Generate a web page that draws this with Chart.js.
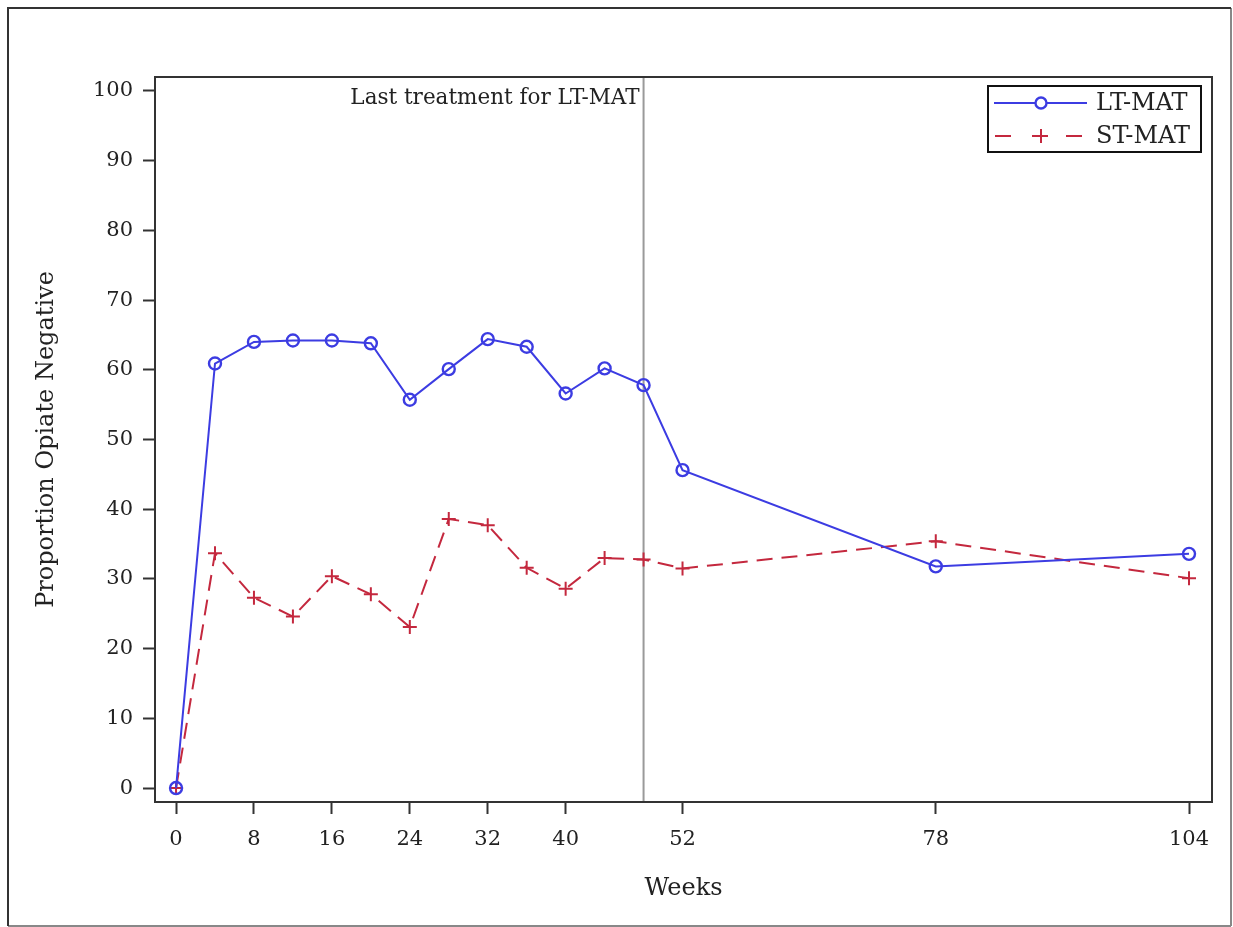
<!DOCTYPE html>
<html>
<head>
<meta charset="utf-8">
<script src="https://cdn.jsdelivr.net/npm/chart.js@4.4.1/dist/chart.umd.min.js"></script>
<style>
  html, body { margin: 0; padding: 0; background: #fff; }
  #wrap { width: 1233px; height: 927px; position: relative; }
</style>
</head>
<body>
<div id="wrap"><canvas id="chart" width="1233" height="927"></canvas></div>
<script>
// weeks and proportions
const weeks = [0, 4, 8, 12, 16, 20, 24, 28, 32, 36, 40, 44, 48, 52, 78, 104];
const ltMat = [0, 60.9, 64.0, 64.2, 64.2, 63.8, 55.7, 60.1, 64.4, 63.3, 56.6, 60.2, 57.8, 45.6, 31.8, 33.6];
const stMat = [0, 33.7, 27.3, 24.6, 30.4, 27.8, 23.1, 38.6, 37.7, 31.6, 28.6, 33.0, 32.8, 31.5, 35.4, 30.1];
const xTickValues = [0, 8, 16, 24, 32, 40, 52, 78, 104];
const yTickValues = [0, 10, 20, 30, 40, 50, 60, 70, 80, 90, 100];
const lastTreatmentWeek = 48;
const refLabel = 'Last treatment for LT-MAT';

const FONT = '"DejaVu Serif", serif';
const BLUE = '#3c3ce2';
const RED = '#c4283e';
const INK = '#222';

const toPoints = (ys) => weeks.map((w, i) => ({ x: w, y: ys[i] }));

// frame around the plot, outer figure border, reference line and inset legend
const decorations = {
    id: 'decorations',
    beforeDraw(chart) {
        const ctx = chart.ctx;
        ctx.save();
        ctx.fillStyle = '#fff';
        ctx.fillRect(0, 0, chart.width, chart.height);
        ctx.lineWidth = 2;
        ctx.strokeStyle = '#888';
        ctx.beginPath();
        ctx.moveTo(1231, 8); ctx.lineTo(1231, 926);
        ctx.moveTo(8, 926); ctx.lineTo(1231, 926);
        ctx.stroke();
        ctx.strokeStyle = '#333';
        ctx.beginPath();
        ctx.moveTo(8, 926); ctx.lineTo(8, 8); ctx.lineTo(1231, 8);
        ctx.stroke();
        ctx.restore();
    },
    beforeDatasetsDraw(chart) {
        const { ctx, chartArea: a, scales } = chart;
        const x = scales.x.getPixelForValue(lastTreatmentWeek);
        ctx.save();
        ctx.strokeStyle = '#9a9a9a';
        ctx.lineWidth = 2;
        ctx.beginPath();
        ctx.moveTo(x, a.top);
        ctx.lineTo(x, a.bottom);
        ctx.stroke();
        ctx.fillStyle = INK;
        ctx.font = '21.5px ' + FONT;
        ctx.textAlign = 'right';
        ctx.textBaseline = 'middle';
        ctx.fillText(refLabel, x - 4, a.top + 21);
        ctx.restore();
    },
    afterDraw(chart) {
        const { ctx, chartArea: a } = chart;
        ctx.save();
        ctx.strokeStyle = '#333';
        ctx.lineWidth = 2;
        ctx.strokeRect(a.left, a.top, a.right - a.left, a.bottom - a.top);

        // legend box
        const bx = 988, by = 86, bw = 213, bh = 66;
        ctx.strokeStyle = '#111';
        ctx.lineWidth = 2;
        ctx.strokeRect(bx, by, bw, bh);
        const rows = [
            { label: 'LT-MAT', color: BLUE, dash: [], style: 'circle', cy: by + 17 },
            { label: 'ST-MAT', color: RED, dash: [16, 9], style: 'cross', cy: by + 50 }
        ];
        rows.forEach(r => {
            ctx.strokeStyle = r.color;
            ctx.lineWidth = 2;
            ctx.setLineDash(r.dash);
            ctx.beginPath();
            if (r.dash.length) {
                ctx.moveTo(bx + 7, r.cy); ctx.lineTo(bx + 28, r.cy);
                ctx.moveTo(bx + 44, r.cy); ctx.lineTo(bx + 62, r.cy);
                ctx.moveTo(bx + 78, r.cy); ctx.lineTo(bx + 98, r.cy);
            } else {
                ctx.moveTo(bx + 6, r.cy); ctx.lineTo(bx + 99, r.cy);
            }
            ctx.stroke();
            ctx.setLineDash([]);
            const mx = bx + 53;
            if (r.style === 'circle') {
                ctx.fillStyle = '#fff';
                ctx.lineWidth = 2.4;
                ctx.beginPath();
                ctx.arc(mx, r.cy, 5.5, 0, Math.PI * 2);
                ctx.fill();
                ctx.stroke();
            } else {
                ctx.lineWidth = 2;
                ctx.beginPath();
                ctx.moveTo(mx - 7, r.cy); ctx.lineTo(mx + 7, r.cy);
                ctx.moveTo(mx, r.cy - 7); ctx.lineTo(mx, r.cy + 7);
                ctx.stroke();
            }
            ctx.fillStyle = INK;
            ctx.font = '24px ' + FONT;
            ctx.textAlign = 'left';
            ctx.textBaseline = 'middle';
            ctx.fillText(r.label, bx + 108, r.cy + 1);
        });
        ctx.restore();
    }
};

new Chart(document.getElementById('chart'), {
    type: 'line',
    data: {
        datasets: [{
            label: 'LT-MAT',
            data: toPoints(ltMat),
            borderColor: BLUE,
            backgroundColor: 'rgba(0,0,0,0)',
            borderWidth: 2,
            pointStyle: 'circle',
            pointRadius: 6,
            pointBorderWidth: 2.4,
            pointBorderColor: BLUE,
            pointBackgroundColor: 'rgba(0,0,0,0)',
            tension: 0
        }, {
            label: 'ST-MAT',
            data: toPoints(stMat),
            borderColor: RED,
            backgroundColor: 'rgba(0,0,0,0)',
            borderWidth: 2,
            borderDash: [16, 9],
            pointStyle: 'cross',
            pointRadius: 7,
            pointBorderWidth: 2,
            pointBorderColor: RED,
            tension: 0
        }]
    },
    options: {
        responsive: false,
        animation: false,
        events: [],
        layout: { padding: { left: 20, right: 21, top: 77, bottom: 20 } },
        plugins: { legend: { display: false }, tooltip: { enabled: false } },
        scales: {
            x: {
                type: 'linear',
                min: -2.16,
                max: 106.36,
                afterBuildTicks: (s) => { s.ticks = xTickValues.map(v => ({ value: v })); },
                afterFit: (s) => { s.height = 105; },
                grid: { drawOnChartArea: false, drawTicks: true, tickLength: 12, tickColor: '#333', tickWidth: 2 },
                border: { display: true, color: '#333', width: 2 },
                ticks: { color: INK, font: { family: FONT, size: 21 }, padding: 13, maxRotation: 0, autoSkip: false },
                title: { display: true, text: 'Weeks', color: INK, font: { family: FONT, size: 24 }, padding: { top: 5 } }
            },
            y: {
                min: -2,
                max: 102,
                afterBuildTicks: (s) => { s.ticks = yTickValues.map(v => ({ value: v })); },
                afterFit: (s) => { s.width = 135; },
                grid: { drawOnChartArea: false, drawTicks: true, tickLength: 12, tickColor: '#333', tickWidth: 2 },
                border: { display: true, color: '#333', width: 2 },
                ticks: { color: INK, font: { family: FONT, size: 21 }, padding: 10 },
                title: { display: true, text: 'Proportion Opiate Negative', color: INK, font: { family: FONT, size: 24 }, padding: { top: 12 } }
            }
        }
    },
    plugins: [decorations]
});
</script>
</body>
</html>
